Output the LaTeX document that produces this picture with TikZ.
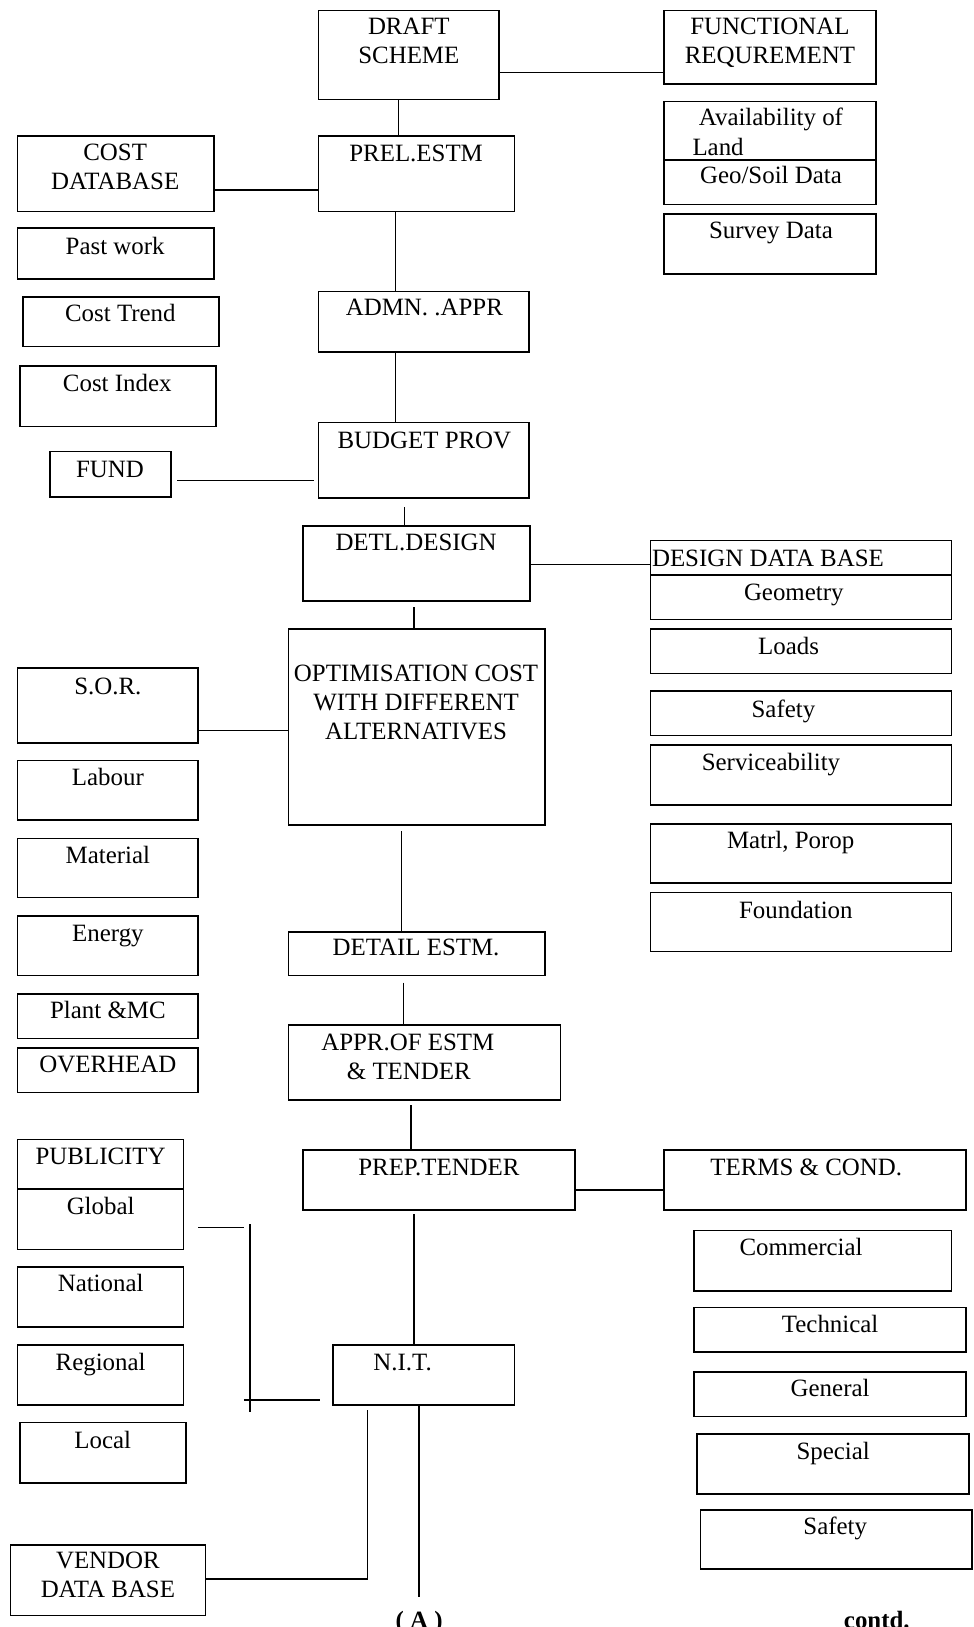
\documentclass[tikz,border=0pt]{standalone}
\usepackage{fontspec}
\setmainfont{Liberation Serif}
\usetikzlibrary{fit}
\newcommand\bx[5]{\node[box, fit={(#2,#3)(#4,#5)}] (#1) {};}
\newcommand\tx[4]{\node[txt] (#1) at (#2,#3+8) {#4};}
\newcommand\txw[4]{\node[txt, anchor=base west] (#1) at (#2,#3+8) {#4};}
\begin{document}
\begin{tikzpicture}[x=0.5187pt,y=-0.5187pt,
  box/.style={draw, line width=0.8pt, inner sep=0pt},
  txt/.style={anchor=base, inner sep=0pt, font=\fontsize{12.45}{14.5}\selectfont},
  conn/.style={line width=0.8pt}]
\useasboundingbox (0,0) rectangle (938,1568);
\fill[white] (0,0) rectangle (938,1568);
\clip (0,0) rectangle (938,1568);
% boxes
\bx{draft}{307}{10}{481}{96}
\bx{func}{640}{10}{844}{81}
\bx{avail}{640}{98}{844}{154}
\bx{geo}{640}{154}{844}{197}
\bx{survey}{640}{206}{844}{264}
\bx{prel}{307}{131}{496}{204}
\bx{costdb}{17}{131}{206}{204}
\bx{past}{17}{220}{206}{269}
\bx{admn}{307}{281}{510}{339}
\bx{trend}{22}{286}{211}{334}
\bx{index}{19}{353}{208}{411}
\bx{budget}{307}{407}{510}{480}
\bx{fund}{48}{435}{165}{479}
\bx{detl}{292}{507}{511}{579}
\bx{ddb}{627}{521}{917}{554}
\bx{geom}{627}{554}{917}{597}
\bx{loads}{627}{606}{917}{649}
\bx{dsafety}{627}{666}{917}{709}
\bx{service}{627}{718}{917}{776}
\bx{matrl}{627}{794}{917}{851}
\bx{found}{627}{860}{917}{917}
\bx{opt}{278}{606}{525}{795}
\bx{sor}{17}{644}{191}{716}
\bx{labour}{17}{733}{191}{790}
\bx{material}{17}{808}{191}{865}
\bx{energy}{17}{883}{191}{940}
\bx{plant}{17}{958}{191}{1001}
\bx{overhead}{17}{1010}{191}{1053}
\bx{detail}{278}{898}{525}{940}
\bx{appr}{278}{988}{540}{1060}
\bx{prep}{292}{1108}{554}{1166}
\bx{terms}{640}{1108}{931}{1166}
\bx{comm}{669}{1186}{917}{1244}
\bx{tech}{669}{1260}{931}{1303}
\bx{general}{669}{1322}{931}{1365}
\bx{special}{672}{1382}{934}{1440}
\bx{tsafety}{675}{1455}{937}{1512}
\bx{nit}{321}{1296}{496}{1354}
\bx{public}{17}{1098}{177}{1146}
\bx{global}{17}{1146}{177}{1204}
\bx{national}{17}{1221}{177}{1279}
\bx{regional}{17}{1296}{177}{1354}
\bx{local}{19}{1371}{179}{1429}
\bx{vendor}{10}{1489}{198}{1557}
% texts
\tx{t1}{394}{25}{DRAFT}
\tx{t2}{394}{53}{SCHEME}
\tx{t3}{742}{25}{FUNCTIONAL}
\tx{t4}{742}{53}{REQUREMENT}
\tx{t5}{743}{113}{Availability of}
\txw{t6}{667}{142}{Land}
\tx{t7}{743}{169}{Geo/Soil Data}
\tx{t8}{743}{222}{Survey Data}
\tx{t9}{401}{148}{PREL.ESTM}
\tx{t10}{111}{147}{COST}
\tx{t11}{111}{175}{DATABASE}
\tx{t12}{111}{237}{Past work}
\tx{t13}{409}{296}{ADMN. .APPR}
\tx{t14}{116}{302}{Cost Trend}
\tx{t15}{113}{369}{Cost Index}
\tx{t16}{409}{424}{BUDGET PROV}
\tx{t17}{106}{452}{FUND}
\tx{t18}{401}{523}{DETL.DESIGN}
\txw{t19}{628}{538}{DESIGN DATA BASE}
\tx{t20}{765}{571}{Geometry}
\tx{t21}{760}{623}{Loads}
\tx{t22}{755}{683}{Safety}
\tx{t23}{743}{735}{Serviceability}
\tx{t24}{762}{810}{Matrl, Porop}
\tx{t25}{767}{877}{Foundation}
\tx{t26}{401}{649}{OPTIMISATION COST}
\tx{t27}{401}{677}{WITH DIFFERENT}
\tx{t28}{401}{705}{ALTERNATIVES}
\tx{t29}{104}{661}{S.O.R.}
\tx{t30}{104}{749}{Labour}
\tx{t31}{104}{824}{Material}
\tx{t32}{104}{899}{Energy}
\tx{t33}{104}{974}{Plant \&MC}
\tx{t34}{104}{1026}{OVERHEAD}
\tx{t35}{401}{913}{DETAIL ESTM.}
\tx{t36}{393}{1004}{APPR.OF ESTM}
\tx{t37}{394}{1032}{\& TENDER}
\tx{t38}{423}{1125}{PREP.TENDER}
\tx{t39}{777}{1125}{TERMS \& COND.}
\tx{t40}{772}{1202}{Commercial}
\tx{t41}{800}{1276}{Technical}
\tx{t42}{800}{1338}{General}
\tx{t43}{803}{1399}{Special}
\tx{t44}{805}{1471}{Safety}
\tx{t45}{388}{1313}{N.I.T.}
\tx{t46}{97}{1114}{PUBLICITY}
\tx{t47}{97}{1162}{Global}
\tx{t48}{97}{1237}{National}
\tx{t49}{97}{1313}{Regional}
\tx{t50}{99}{1388}{Local}
\tx{t51}{104}{1504}{VENDOR}
\tx{t52}{104}{1532}{DATA BASE}
\node[txt, font=\fontsize{12.45}{14.5}\selectfont\bfseries] (ta) at (404,1569) {( A )};
\node[txt, font=\fontsize{12.45}{14.5}\selectfont\bfseries] (tc) at (845,1569) {contd.};
% free-end coordinates
\coordinate (fundA) at (171,463);
\coordinate (fundB) at (303,463);
\coordinate (bdA) at (390,489);
\coordinate (ddA) at (399,585);
\coordinate (odA) at (387,801);
\coordinate (deA) at (389,947);
\coordinate (apA) at (396,1065);
\coordinate (prA) at (399,1170);
\coordinate (pubA) at (191,1183);
\coordinate (pubB) at (235,1183);
\coordinate (pubC) at (241,1180);
\coordinate (pubD) at (241,1361);
\coordinate (pubE) at (235,1349);
\coordinate (pubF) at (308,1349);
\coordinate (nitA) at (354,1359);
\coordinate (nitB) at (354,1522);
\coordinate (endA) at (404,1539);
% connectors
\draw[conn] (draft.east |- 0,70) -- (func.west |- 0,70);
\draw[conn] (draft.south -| 384,0) -- (prel.north -| 384,0);
\draw[conn] (costdb.east |- 0,183) -- (prel.west |- 0,183);
\draw[conn] (prel.south -| 381,0) -- (admn.north -| 381,0);
\draw[conn] (admn.south -| 381,0) -- (budget.north -| 381,0);
\draw[conn] (fundA) -- (fundB);
\draw[conn] (bdA) -- (detl.north -| bdA);
\draw[conn] (detl.east |- 0,544) -- (ddb.west |- 0,544);
\draw[conn] (ddA) -- (opt.north -| ddA);
\draw[conn] (sor.east |- 0,704) -- (opt.west |- 0,704);
\draw[conn] (odA) -- (detail.north -| odA);
\draw[conn] (deA) -- (appr.north -| deA);
\draw[conn] (apA) -- (prep.north -| apA);
\draw[conn] (prep.east |- 0,1147) -- (terms.west |- 0,1147);
\draw[conn] (prA) -- (nit.north -| prA);
\draw[conn] (pubA) -- (pubB);
\draw[conn] (pubC) -- (pubD);
\draw[conn] (pubE) -- (pubF);
\draw[conn] (nitA) -- (nitB) -- (vendor.east |- nitB);
\draw[conn] (nit.south -| endA) -- (endA);
\end{tikzpicture}
\end{document}
